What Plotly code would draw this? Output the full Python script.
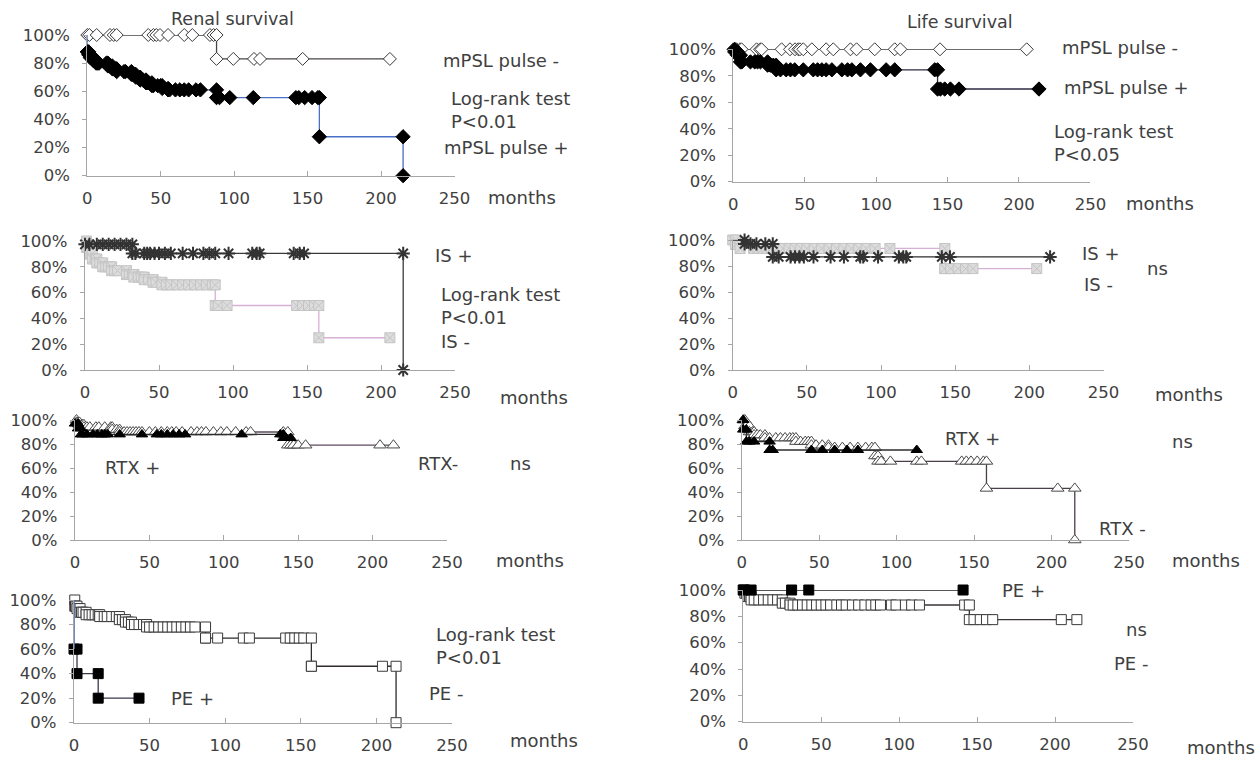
import plotly.graph_objects as go

W, H = 1259, 758
FONT = "DejaVu Sans"
TXT = "#404040"
AXIS = "#a6a6a6"
TICK_SIZE = 16.5
LABEL_SIZE = 18
TITLE_SIZE = 17.5

# ---------------- Renal survival ----------------
# mPSL pulse
ren_mpsl_neg_ev_t = [88]
ren_mpsl_neg_ev_s = [0.83]
ren_mpsl_neg_cens = [0, 1.4, 6.4, 15.4, 18, 20, 41.5, 45, 47, 49.5, 55, 66, 71.5, 83.5, 86,
                     99.4, 113.5, 117.6, 146.6, 206]
ren_mpsl_pos_ev_t = [0, 1, 2, 4, 6, 14, 17, 20, 30, 33, 36, 40, 44, 51, 55, 88, 158, 215]
ren_mpsl_pos_ev_s = [0.88, 0.86, 0.84, 0.82, 0.80, 0.78, 0.76, 0.74, 0.72, 0.70, 0.68, 0.66,
                     0.64, 0.62, 0.61, 0.555, 0.277, 0.0]
ren_mpsl_pos_cens = [0.5, 1.5, 3, 5, 7, 8, 13, 15, 16, 18, 19, 25, 26, 31, 32, 34, 38, 41, 42,
                     45, 48, 50, 56, 60, 63, 66, 69, 74, 77, 90, 97, 113, 142, 144, 148, 153, 157]

# immunosuppressants
ren_is_pos_ev_t = [0, 32, 215]
ren_is_pos_ev_s = [0.974, 0.904, 0.0]
ren_is_pos_cens = [3, 8, 12, 16, 20, 24, 28, 34, 40, 42, 44, 47, 50, 54, 58, 66, 73, 80, 84, 88,
                   97, 113, 116, 118, 141, 145, 148]
ren_is_neg_ev_t = [1, 3, 5, 8, 12, 18, 28, 33, 40, 46, 52, 88, 158]
ren_is_neg_ev_s = [0.95, 0.90, 0.86, 0.83, 0.80, 0.77, 0.74, 0.72, 0.70, 0.68, 0.66, 0.50, 0.25]
ren_is_neg_cens = [2, 4, 7, 10, 14, 16, 20, 22, 30, 32, 36, 38, 43, 48, 55, 58, 62, 66, 70, 74,
                   78, 82, 86, 90, 96, 143, 147, 151, 155, 206]

# rituximab
ren_rtx_pos_ev_t = [0, 2, 4, 140]
ren_rtx_pos_ev_s = [0.97, 0.93, 0.88, 0.85]
ren_rtx_pos_cens = [5, 8, 12, 15, 18, 20, 22, 30, 45, 55, 58, 62, 66, 70, 74, 112, 138, 145]
ren_rtx_neg_ev_t = [1, 3, 6, 25, 30, 143]
ren_rtx_neg_ev_s = [0.98, 0.96, 0.94, 0.92, 0.90, 0.79]
ren_rtx_neg_cens = [2, 5, 8, 10, 14, 16, 20, 24, 28, 33, 35, 37, 39, 41, 43, 45, 50, 54, 58, 62,
                    65, 68, 72, 78, 82, 85, 88, 93, 98, 102, 108, 115, 118, 140, 145, 147, 150,
                    155, 205, 214]

# plasma exchange
ren_pe_neg_ev_t = [0.5, 2, 4, 8, 17, 30, 34, 38, 48, 87, 157, 213]
ren_pe_neg_ev_s = [0.95, 0.93, 0.90, 0.88, 0.865, 0.84, 0.82, 0.80, 0.78, 0.69, 0.46, 0.0]
ren_pe_neg_cens = [1, 3, 5, 6, 10, 12, 14, 16, 20, 22, 25, 28, 32, 36, 40, 43, 46, 50, 53, 56,
                   59, 62, 65, 68, 71, 74, 77, 80, 87, 95, 112, 116, 140, 143, 146, 149, 152,
                   157, 204]
ren_pe_pos_ev_t = [0, 2, 16]
ren_pe_pos_ev_s = [0.6, 0.4, 0.2]
ren_pe_pos_cens = [43]

# ---------------- Life survival ----------------
life_mpsl_neg_ev_t = []
life_mpsl_neg_ev_s = []
life_mpsl_neg_cens = [0, 2.3, 4.7, 5.8, 16.3, 18.7, 19.8, 33.8, 39.7, 43.2, 45.5, 46.7, 49, 55,
                      65, 70, 82, 86.3, 99, 113, 117, 144.7, 205.4]
life_mpsl_pos_ev_t = [1, 3, 5, 24, 30, 143]
life_mpsl_pos_ev_s = [0.98, 0.955, 0.905, 0.88, 0.845, 0.70]
life_mpsl_pos_cens = [4, 6, 12, 15, 17, 19, 26, 28, 33, 37, 40, 43, 49, 56, 59, 62, 65, 69, 76,
                      80, 83, 89, 96, 107, 113, 141, 145, 148, 152, 158, 214]

life_is_pos_ev_t = [8, 27]
life_is_pos_ev_s = [0.97, 0.87]
life_is_pos_cens = [12, 16, 22, 31, 39, 42, 45, 48, 54.5, 66, 75, 86, 88, 98, 112, 115, 117,
                    141, 146.5, 214]
life_is_neg_ev_t = [2, 5, 143]
life_is_neg_ev_s = [0.965, 0.935, 0.78]
life_is_neg_cens = [0, 14, 17, 20, 23, 26, 30, 34, 38, 42, 46, 50, 55, 60, 65, 70, 75, 80, 85,
                    90, 96, 106, 143, 147, 152, 157, 162, 205]

life_rtx_pos_ev_t = [1, 3, 18]
life_rtx_pos_ev_s = [0.92, 0.82, 0.75]
life_rtx_pos_cens = [5, 8, 20, 45, 52, 60, 68, 75, 113]
life_rtx_neg_ev_t = [2, 5, 8, 15, 35, 45, 56, 86, 88, 158, 215]
life_rtx_neg_ev_s = [0.95, 0.90, 0.875, 0.85, 0.82, 0.79, 0.77, 0.70, 0.655, 0.43, 0.0]
life_rtx_neg_cens = [1, 3, 7, 10, 12, 18, 22, 25, 28, 31, 33, 38, 41, 43, 48, 52, 60, 65, 70,
                     75, 80, 84, 90, 96, 113, 116, 142, 145, 148, 152, 156, 204]

life_pe_pos_ev_t = []
life_pe_pos_ev_s = []
life_pe_pos_cens = [0, 5, 31, 42, 141]
life_pe_neg_ev_t = [1, 3, 5, 25, 30, 145]
life_pe_neg_ev_s = [0.975, 0.95, 0.925, 0.90, 0.886, 0.775]
life_pe_neg_cens = [0, 2, 4, 7, 10, 13, 16, 19, 22, 27, 32, 35, 38, 41, 44, 47, 50, 53, 56, 60,
                    63, 66, 70, 74, 78, 82, 85, 88, 95, 98, 104, 108, 113, 142, 148, 152, 156,
                    160, 204, 214]

x_ticks = [0, 50, 100, 150, 200, 250]
y_ticks = [0, 0.2, 0.4, 0.6, 0.8, 1.0]

# pixel frame of each panel: x of month 0, x of month 250, y of 0 %, y of 100 %
panels = [
    (87.3, 454.5, 175.7, 35.0),
    (85.0, 455.0, 370.0, 241.0),
    (75.0, 447.0, 540.0, 420.0),
    (74.0, 452.0, 722.7, 600.0),
    (733.3, 1090.4, 181.7, 49.3),
    (732.7, 1103.5, 370.0, 240.0),
    (741.7, 1129.0, 540.0, 420.0),
    (743.3, 1133.0, 721.7, 590.0),
]


def km_path(ev_t, ev_s, cens, s0=1.0):
    """Step path of a Kaplan-Meier curve plus the vertices that carry a marker."""
    items = [(t, 0, s) for t, s in zip(ev_t, ev_s)] + [(t, 1, None) for t in cens]
    items.sort(key=lambda a: (a[0], a[1]))
    xs, ys, mx, my = [0], [s0], [], []
    cur = s0
    for t, kind, s in items:
        if kind == 0:
            xs += [t, t]
            ys += [cur, s]
            if t > 0:
                mx.append(t)
                my.append(cur)
            mx.append(t)
            my.append(s)
            cur = s
        else:
            xs.append(t)
            ys.append(cur)
            mx.append(t)
            my.append(cur)
    return xs, ys, mx, my


fig = go.Figure()

DIAMOND_OPEN = dict(symbol="diamond", color="white", size=10, line=dict(color="#3a3a3a", width=1))
DIAMOND_FILL = dict(symbol="diamond", color="black", size=11, line=dict(color="black", width=1))
STAR = dict(symbol="asterisk-open", color="#333333", size=11, line=dict(color="#333333", width=2))
SQX_GREY = dict(symbol="square-x", color="#dcdcdc", size=10, line=dict(color="#c4c4c4", width=1))
TRI_FILL = dict(symbol="triangle-up", color="black", size=10, line=dict(color="black", width=1))
TRI_OPEN = dict(symbol="triangle-up", color="white", size=11, line=dict(color="#4a4a4a", width=1))
SQ_OPEN = dict(symbol="square", color="white", size=10, line=dict(color="#3a3a3a", width=1))
SQ_FILL = dict(symbol="square", color="black", size=10, line=dict(color="black", width=1))

series = [
    # panel, events t, events s, censored, line colour, marker
    (1, ren_mpsl_neg_ev_t, ren_mpsl_neg_ev_s, ren_mpsl_neg_cens, "#4a4446", DIAMOND_OPEN),
    (1, ren_mpsl_pos_ev_t, ren_mpsl_pos_ev_s, ren_mpsl_pos_cens, "#4a6fc6", DIAMOND_FILL),
    (2, ren_is_neg_ev_t, ren_is_neg_ev_s, ren_is_neg_cens, "#d6b0d6", SQX_GREY),
    (2, ren_is_pos_ev_t, ren_is_pos_ev_s, ren_is_pos_cens, "#3a3a3a", STAR),
    (3, ren_rtx_neg_ev_t, ren_rtx_neg_ev_s, ren_rtx_neg_cens, "#5c4a5c", TRI_OPEN),
    (3, ren_rtx_pos_ev_t, ren_rtx_pos_ev_s, ren_rtx_pos_cens, "#2e2e2e", TRI_FILL),
    (4, ren_pe_neg_ev_t, ren_pe_neg_ev_s, ren_pe_neg_cens, "#2e2a2e", SQ_OPEN),
    (4, ren_pe_pos_ev_t, ren_pe_pos_ev_s, ren_pe_pos_cens, "#3a3a4a", SQ_FILL),
    (5, life_mpsl_neg_ev_t, life_mpsl_neg_ev_s, life_mpsl_neg_cens, "#3a3a3a", DIAMOND_OPEN),
    (5, life_mpsl_pos_ev_t, life_mpsl_pos_ev_s, life_mpsl_pos_cens, "#2c2c44", DIAMOND_FILL),
    (6, life_is_neg_ev_t, life_is_neg_ev_s, life_is_neg_cens, "#d6b0d6", SQX_GREY),
    (6, life_is_pos_ev_t, life_is_pos_ev_s, life_is_pos_cens, "#2e2e2e", STAR),
    (7, life_rtx_neg_ev_t, life_rtx_neg_ev_s, life_rtx_neg_cens, "#4a3e4a", TRI_OPEN),
    (7, life_rtx_pos_ev_t, life_rtx_pos_ev_s, life_rtx_pos_cens, "#2e2e2e", TRI_FILL),
    (8, life_pe_neg_ev_t, life_pe_neg_ev_s, life_pe_neg_cens, "#3a343a", SQ_OPEN),
    (8, life_pe_pos_ev_t, life_pe_pos_ev_s, life_pe_pos_cens, "#1e1e1e", SQ_FILL),
]

for p, et, es, ct, lc, mk in series:
    xs, ys, mx, my = km_path(et, es, ct)
    ax = "" if p == 1 else str(p)
    fig.add_trace(go.Scatter(x=xs, y=ys, mode="lines", line=dict(color=lc, width=1.3),
                             xaxis="x" + ax, yaxis="y" + ax, cliponaxis=False,
                             hoverinfo="skip", showlegend=False))
    fig.add_trace(go.Scatter(x=mx, y=my, mode="markers", marker=mk,
                             xaxis="x" + ax, yaxis="y" + ax, cliponaxis=False,
                             showlegend=False))

# blue lead-in of the PE+ renal curve at time zero
fig.add_trace(go.Scatter(x=[0, 0], y=[1.0, ren_pe_pos_ev_s[0]], mode="lines",
                         line=dict(color="#6f8fdc", width=1.2), xaxis="x4", yaxis="y4",
                         cliponaxis=False, showlegend=False, hoverinfo="skip"))

layout = dict(
    width=W, height=H, margin=dict(l=0, r=0, t=0, b=0, pad=0, autoexpand=False),
    paper_bgcolor="white", plot_bgcolor="white",
    font=dict(family=FONT, size=TICK_SIZE, color=TXT),
)
for i, (x0, x250, y0, y100) in enumerate(panels, start=1):
    ax = "" if i == 1 else str(i)
    layout["xaxis" + ax] = dict(
        domain=[x0 / W, x250 / W], range=[0, 250], anchor="y" + ax, automargin=False,
        tickvals=x_ticks, ticktext=[str(v) for v in x_ticks],
        showline=True, linecolor=AXIS, linewidth=1.3, ticks="inside", ticklen=5,
        tickcolor=AXIS, tickwidth=1.3, showgrid=False, zeroline=False,
        tickfont=dict(family=FONT, size=TICK_SIZE, color=TXT), ticklabelstandoff=7,
        fixedrange=True,
    )
    layout["yaxis" + ax] = dict(
        domain=[1 - y0 / H, 1 - y100 / H], range=[0, 1], anchor="x" + ax, automargin=False,
        tickvals=y_ticks, tickformat=".0%",
        showline=True, linecolor=AXIS, linewidth=1.3, ticks="outside", ticklen=4,
        tickcolor=AXIS, tickwidth=1.3, showgrid=False, zeroline=False,
        tickfont=dict(family=FONT, size=TICK_SIZE, color=TXT), ticklabelstandoff=9,
        fixedrange=True,
    )

fig.update_layout(**layout)

# text labels: (text, left x px, centre y px); multi-line blocks are centred on y
labels = [
    ("mPSL pulse -", 441, 60), ("Log-rank test<br>P&lt;0.01", 449, 110),
    ("mPSL pulse +", 442, 148), ("months", 486, 197),
    ("IS +", 433, 255), ("Log-rank test<br>P&lt;0.01<br>IS -", 439, 318),
    ("months", 498, 397),
    ("RTX +", 103, 467), ("RTX-", 416, 463), ("ns", 508, 463), ("months", 494, 560),
    ("Log-rank test<br>P&lt;0.01", 434, 646), ("PE +", 169, 698), ("PE -", 427, 693),
    ("months", 508, 740),
    ("mPSL pulse -", 1060, 47), ("mPSL pulse +", 1062, 88),
    ("Log-rank test<br>P&lt;0.05", 1052, 143), ("months", 1124, 203),
    ("IS +", 1080, 254), ("ns", 1145, 268), ("IS -", 1082, 285), ("months", 1153, 394),
    ("RTX +", 943, 438), ("ns", 1170, 441), ("RTX -", 1097, 528), ("months", 1170, 560),
    ("PE +", 1000, 590), ("ns", 1124, 629), ("PE -", 1112, 663), ("months", 1185, 747),
]
annotations = [
    dict(text=t, x=x / W, y=1 - y / H, xref="paper", yref="paper", xanchor="left",
         yanchor="middle", align="left", showarrow=False,
         font=dict(family=FONT, size=LABEL_SIZE, color=TXT))
    for t, x, y in labels
]
annotations += [
    dict(text="Renal survival", x=232 / W, y=1 - 19 / H, xref="paper", yref="paper",
         xanchor="center", yanchor="middle", showarrow=False,
         font=dict(family=FONT, size=TITLE_SIZE, color=TXT)),
    dict(text="Life survival", x=960 / W, y=1 - 22 / H, xref="paper", yref="paper",
         xanchor="center", yanchor="middle", showarrow=False,
         font=dict(family=FONT, size=TITLE_SIZE, color=TXT)),
]
fig.update_layout(annotations=annotations)

fig.write_html("out.html")
